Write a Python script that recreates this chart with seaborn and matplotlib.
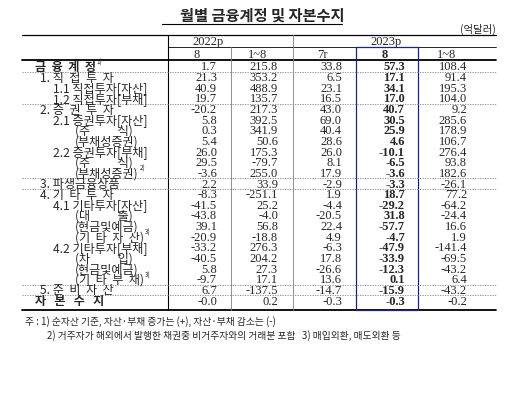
import matplotlib
matplotlib.use("Agg")
import matplotlib.pyplot as plt
import seaborn as sns

sns.set_theme(style="white")
plt.rcParams['font.family'] = ['Noto Sans CJK KR', 'DejaVu Sans']

labels = ["금  융  계  정", "1. 직  접  투  자", "1.1 직접투자[자산]", "1.2 직접투자[부채]",
          "2. 증  권  투  자", "2.1 증권투자[자산]", "(주          식)", "(부채성증권)",
          "2.2 증권투자[부채]", "(주          식)", "(부채성증권)", "3. 파생금융상품",
          "4. 기  타  투  자", "4.1 기타투자[자산]", "(대          출)", "(현금및예금)",
          "(기  타  자  산)", "4.2 기타투자[부채]", "(차          입)", "(현금및예금)",
          "(기  타  부  채)", "5. 준  비  자  산", "자   본   수   지"]
sups = {0: "1)", 10: "2)", 16: "3)", 20: "3)"}
indent = [35, 40, 53, 53, 40, 53, 75, 75, 53, 75, 75, 40, 40, 53, 75, 75, 75, 53, 75, 75, 75, 40, 35]
bold_rows = {0, 22}

y2022_8 = [1.7, 21.3, 40.9, 19.7, -20.2, 5.8, 0.3, 5.4, 26.0, 29.5, -3.6, 2.2, -8.3, -41.5, -43.8, 39.1, -20.9, -33.2, -40.5, 5.8, -9.7, 6.7, -0.0]
y2022_18 = [215.8, 353.2, 488.9, 135.7, 217.3, 392.5, 341.9, 50.6, 175.3, -79.7, 255.0, 33.9, -251.1, 25.2, -4.0, 56.8, -18.8, 276.3, 204.2, 27.3, 17.1, -137.5, 0.2]
y2023_7 = [33.8, 6.5, 23.1, 16.5, 43.0, 69.0, 40.4, 28.6, 26.0, 8.1, 17.9, -2.9, 1.9, -4.4, -20.5, 22.4, 4.9, -6.3, 17.8, -26.6, 13.6, -14.7, -0.3]
y2023_8 = [57.3, 17.1, 34.1, 17.0, 40.7, 30.5, 25.9, 4.6, -10.1, -6.5, -3.6, -3.3, 18.7, -29.2, 31.8, -57.7, -4.7, -47.9, -33.9, -12.3, 0.1, -15.9, -0.3]
y2023_18 = [108.4, 91.4, 195.3, 104.0, 9.2, 285.6, 178.9, 106.7, 276.4, 93.8, 182.6, -26.1, 77.2, -64.2, -24.4, 16.6, 1.9, -141.4, -69.5, -43.2, 6.4, -43.2, -0.2]
columns = [y2022_8, y2022_18, y2023_7, y2023_8, y2023_18]
col_heads = ["8", "1~8", "7r", "8", "1~8"]
dotted_after = [0, 3, 10, 11, 20, 21]

fig = plt.figure(figsize=(5.09, 4.10), dpi=100)
ax = fig.add_axes([0, 0, 1, 1])
ax.set_xlim(0, 509)
ax.set_ylim(410, 0)
ax.axis("off")

ser = "Liberation Serif"
ax.text(262, 16, "월별 금융계정 및 자본수지", ha="center", va="center", fontsize=11, fontweight="bold")
ax.plot([162, 342], [25, 25], color="black", lw=0.8)
ax.text(478, 29, "(억달러)", ha="center", va="center", fontsize=7.5)

ax.plot([22, 496], [36, 36], color="black", lw=0.9)
ax.plot([168, 496], [48, 48], color="black", lw=0.6)
ax.plot([22, 496], [61, 61], color="black", lw=1.3)
ax.plot([22, 496], [311, 311], color="black", lw=1.3)
ax.text(208, 42, "2022p", ha="center", va="center", fontsize=9, family=ser)
ax.text(386, 42, "2023p", ha="center", va="center", fontsize=9, family=ser)

ax.plot([168, 168], [36, 311], color="black", lw=0.8)
ax.plot([231, 231], [48, 311], color="gray", lw=0.6)
ax.plot([293, 293], [36, 311], color="gray", lw=0.6)
ax.plot([356, 418, 418, 356, 356], [48, 48, 311, 311, 48], color="#1a237e", lw=0.9)

rights = [217, 278, 342, 405, 467]
for i, h in enumerate(col_heads):
    ax.text(rights[i] - 20, 55, h, ha="center", va="center", fontsize=9, family=ser,
            fontweight="bold" if i == 3 else "normal")

y0, dy = 67.5, 10.64
for r, lab in enumerate(labels):
    y = y0 + r * dy
    w = "bold" if r in bold_rows else "normal"
    t = ax.text(indent[r], y, lab, ha="left", va="center", fontsize=8.7, fontweight=w)
    if r in sups:
        ax.annotate(sups[r], xy=(1, 0.9), xycoords=t, xytext=(0.5, -3), textcoords="offset points",
                    fontsize=4.5, va="bottom")
    for c, col in enumerate(columns):
        v = col[r]
        s = "-0.0" if (v == 0 and c == 0 and r == 22) else f"{v:.1f}"
        ax.text(rights[c], y, s, ha="right", va="center", fontsize=9, family=ser,
                fontweight="bold" if c == 3 else "normal")
for r in dotted_after:
    yy = y0 + (r + 0.5) * dy
    ax.plot([22, 496], [yy, yy], color="gray", lw=0.6, ls=(0, (1.5, 1.5)))

ax.text(25, 322, "주 : 1) 순자산 기준, 자산·부채 증가는 (+), 자산·부채 감소는 (-)", ha="left", va="center", fontsize=7)
ax.text(47, 336, "2) 거주자가 해외에서 발행한 채권중 비거주자와의 거래분 포함   3) 매입외환, 매도외환 등",
        ha="left", va="center", fontsize=7)

fig.savefig("out.png", dpi=100)
